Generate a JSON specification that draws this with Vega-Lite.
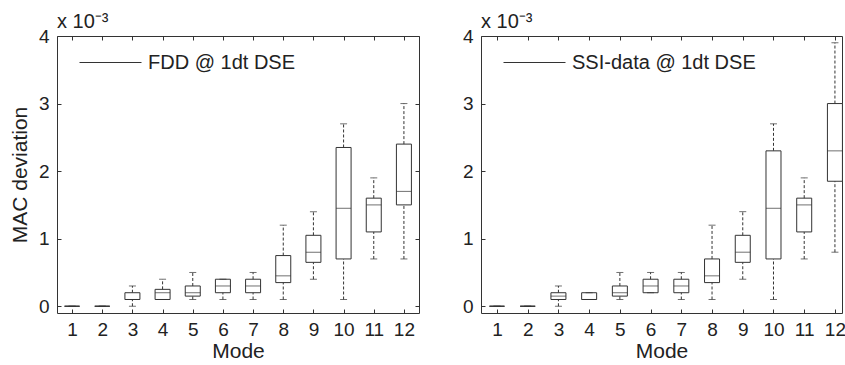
{
  "$schema": "https://vega.github.io/schema/vega-lite/v6.json",
  "background": "white",
  "padding": {"left": 8, "top": 11, "right": 0, "bottom": 0},
  "spacing": 41,
  "datasets": {
    "boxes": [
      {"panel": "FDD", "series": "FDD @ 1dt DSE", "mode": 1, "lo": 0, "q1": 0, "med": 0, "q3": 0, "hi": 0},
      {"panel": "FDD", "series": "FDD @ 1dt DSE", "mode": 2, "lo": 0, "q1": 0, "med": 0, "q3": 0, "hi": 0},
      {"panel": "FDD", "series": "FDD @ 1dt DSE", "mode": 3, "lo": 0, "q1": 0.1, "med": 0.1, "q3": 0.2, "hi": 0.3},
      {"panel": "FDD", "series": "FDD @ 1dt DSE", "mode": 4, "lo": 0.1, "q1": 0.1, "med": 0.2, "q3": 0.25, "hi": 0.4},
      {"panel": "FDD", "series": "FDD @ 1dt DSE", "mode": 5, "lo": 0.1, "q1": 0.15, "med": 0.2, "q3": 0.3, "hi": 0.5},
      {"panel": "FDD", "series": "FDD @ 1dt DSE", "mode": 6, "lo": 0.1, "q1": 0.2, "med": 0.3, "q3": 0.4, "hi": 0.4},
      {"panel": "FDD", "series": "FDD @ 1dt DSE", "mode": 7, "lo": 0.1, "q1": 0.2, "med": 0.3, "q3": 0.4, "hi": 0.5},
      {"panel": "FDD", "series": "FDD @ 1dt DSE", "mode": 8, "lo": 0.1, "q1": 0.35, "med": 0.45, "q3": 0.75, "hi": 1.2},
      {"panel": "FDD", "series": "FDD @ 1dt DSE", "mode": 9, "lo": 0.4, "q1": 0.65, "med": 0.8, "q3": 1.05, "hi": 1.4},
      {"panel": "FDD", "series": "FDD @ 1dt DSE", "mode": 10, "lo": 0.1, "q1": 0.7, "med": 1.45, "q3": 2.35, "hi": 2.7},
      {"panel": "FDD", "series": "FDD @ 1dt DSE", "mode": 11, "lo": 0.7, "q1": 1.1, "med": 1.5, "q3": 1.6, "hi": 1.9},
      {"panel": "FDD", "series": "FDD @ 1dt DSE", "mode": 12, "lo": 0.7, "q1": 1.5, "med": 1.7, "q3": 2.4, "hi": 3.0},
      {"panel": "SSI", "series": "SSI-data @ 1dt DSE", "mode": 1, "lo": 0, "q1": 0, "med": 0, "q3": 0, "hi": 0},
      {"panel": "SSI", "series": "SSI-data @ 1dt DSE", "mode": 2, "lo": 0, "q1": 0, "med": 0, "q3": 0, "hi": 0},
      {"panel": "SSI", "series": "SSI-data @ 1dt DSE", "mode": 3, "lo": 0, "q1": 0.1, "med": 0.15, "q3": 0.2, "hi": 0.3},
      {"panel": "SSI", "series": "SSI-data @ 1dt DSE", "mode": 4, "lo": 0.1, "q1": 0.1, "med": 0.1, "q3": 0.2, "hi": 0.2},
      {"panel": "SSI", "series": "SSI-data @ 1dt DSE", "mode": 5, "lo": 0.1, "q1": 0.15, "med": 0.2, "q3": 0.3, "hi": 0.5},
      {"panel": "SSI", "series": "SSI-data @ 1dt DSE", "mode": 6, "lo": 0.2, "q1": 0.2, "med": 0.3, "q3": 0.4, "hi": 0.5},
      {"panel": "SSI", "series": "SSI-data @ 1dt DSE", "mode": 7, "lo": 0.1, "q1": 0.2, "med": 0.3, "q3": 0.4, "hi": 0.5},
      {"panel": "SSI", "series": "SSI-data @ 1dt DSE", "mode": 8, "lo": 0.1, "q1": 0.35, "med": 0.45, "q3": 0.7, "hi": 1.2},
      {"panel": "SSI", "series": "SSI-data @ 1dt DSE", "mode": 9, "lo": 0.4, "q1": 0.65, "med": 0.8, "q3": 1.05, "hi": 1.4},
      {"panel": "SSI", "series": "SSI-data @ 1dt DSE", "mode": 10, "lo": 0.1, "q1": 0.7, "med": 1.45, "q3": 2.3, "hi": 2.7},
      {"panel": "SSI", "series": "SSI-data @ 1dt DSE", "mode": 11, "lo": 0.7, "q1": 1.1, "med": 1.5, "q3": 1.6, "hi": 1.9},
      {"panel": "SSI", "series": "SSI-data @ 1dt DSE", "mode": 12, "lo": 0.8, "q1": 1.85, "med": 2.3, "q3": 3.0, "hi": 3.9}
    ]
  },
  "resolve": {"scale": {"color": "independent"}, "legend": {"color": "independent"}},
  "hconcat": [
    {
      "width": 362,
      "height": 277,
      "data": {"name": "boxes"},
      "transform": [{"filter": "datum.panel === 'FDD'"}],
      "title": {"text": "x 10⁻³", "anchor": "start", "frame": "group", "fontSize": 20, "fontWeight": "normal", "offset": -5, "color": "#222"},
      "resolve": {"axis": {"x": "independent", "y": "independent"}},
      "layer": [
        {
          "mark": {"type": "rule", "strokeWidth": 1},
          "encoding": {
            "x": {"field": "mode", "type": "quantitative", "scale": {"domain": [0.5, 12.5], "nice": false, "zero": false, "padding": 0}, "axis": null},
            "y": {"field": "q1", "type": "quantitative", "scale": {"domain": [-0.1, 4], "nice": false, "zero": false, "padding": 0}, "axis": null},
            "y2": {"field": "q3"},
            "color": {"field": "series", "type": "nominal", "scale": {"range": ["#333333"]},
              "legend": {"orient": "none", "legendX": 22, "legendY": -5, "title": null, "symbolType": "stroke", "symbolSize": 3844, "symbolStrokeWidth": 1, "labelFontSize": 20, "labelColor": "#222", "labelOffset": 6, "labelLimit": 0, "padding": 0}}
          }
        },
        {
          "mark": {"type": "rule", "strokeDash": [3, 2], "color": "#333", "strokeWidth": 1},
          "encoding": {
            "x": {"field": "mode", "type": "quantitative", "axis": null},
            "y": {"field": "lo", "type": "quantitative", "axis": null},
            "y2": {"field": "q1"}
          }
        },
        {
          "mark": {"type": "rule", "strokeDash": [3, 2], "color": "#333", "strokeWidth": 1},
          "encoding": {
            "x": {"field": "mode", "type": "quantitative", "axis": null},
            "y": {"field": "q3", "type": "quantitative", "axis": null},
            "y2": {"field": "hi"}
          }
        },
        {
          "mark": {"type": "bar", "size": 15, "fill": "white", "stroke": "#333", "strokeWidth": 1},
          "encoding": {
            "x": {"field": "mode", "type": "quantitative", "title": "Mode",
              "axis": {"orient": "bottom", "values": [1,2,3,4,5,6,7,8,9,10,11,12], "format": "d", "tickSize": -4, "labelPadding": 11, "titlePadding": 1}},
            "y": {"field": "q1", "type": "quantitative", "title": "MAC deviation",
              "axis": {"orient": "left", "values": [0,1,2,3,4], "format": "d", "tickSize": -4, "labelPadding": 12, "titlePadding": 8}},
            "y2": {"field": "q3"}
          }
        },
        {
          "mark": {"type": "tick", "orient": "horizontal", "size": 15, "thickness": 1, "color": "#333"},
          "encoding": {
            "x": {"field": "mode", "type": "quantitative", "axis": null},
            "y": {"field": "med", "type": "quantitative", "axis": null}
          }
        },
        {
          "mark": {"type": "tick", "orient": "horizontal", "size": 7, "thickness": 1, "color": "#333"},
          "encoding": {
            "x": {"field": "mode", "type": "quantitative",
              "axis": {"orient": "top", "values": [1,2,3,4,5,6,7,8,9,10,11,12], "labels": false, "title": null, "tickSize": -4, "minExtent": 0, "maxExtent": 0}},
            "y": {"field": "lo", "type": "quantitative",
              "axis": {"orient": "right", "values": [0,1,2,3,4], "labels": false, "title": null, "tickSize": -4, "minExtent": 0, "maxExtent": 0}}
          }
        },
        {
          "mark": {"type": "tick", "orient": "horizontal", "size": 7, "thickness": 1, "color": "#333"},
          "encoding": {
            "x": {"field": "mode", "type": "quantitative", "axis": null},
            "y": {"field": "hi", "type": "quantitative", "axis": null}
          }
        }
      ]
    },
    {
      "width": 361,
      "height": 277,
      "data": {"name": "boxes"},
      "transform": [{"filter": "datum.panel === 'SSI'"}],
      "title": {"text": "x 10⁻³", "anchor": "start", "frame": "group", "fontSize": 20, "fontWeight": "normal", "offset": -5, "color": "#222"},
      "resolve": {"axis": {"x": "independent", "y": "independent"}},
      "layer": [
        {
          "mark": {"type": "rule", "strokeWidth": 1},
          "encoding": {
            "x": {"field": "mode", "type": "quantitative", "scale": {"domain": [0.48, 12.23], "nice": false, "zero": false, "padding": 0}, "axis": null},
            "y": {"field": "q1", "type": "quantitative", "scale": {"domain": [-0.1, 4], "nice": false, "zero": false, "padding": 0}, "axis": null},
            "y2": {"field": "q3"},
            "color": {"field": "series", "type": "nominal", "scale": {"range": ["#333333"]},
              "legend": {"orient": "none", "legendX": 22, "legendY": -5, "title": null, "symbolType": "stroke", "symbolSize": 3844, "symbolStrokeWidth": 1, "labelFontSize": 20, "labelColor": "#222", "labelOffset": 6, "labelLimit": 0, "padding": 0}}
          }
        },
        {
          "mark": {"type": "rule", "strokeDash": [3, 2], "color": "#333", "strokeWidth": 1},
          "encoding": {
            "x": {"field": "mode", "type": "quantitative", "axis": null},
            "y": {"field": "lo", "type": "quantitative", "axis": null},
            "y2": {"field": "q1"}
          }
        },
        {
          "mark": {"type": "rule", "strokeDash": [3, 2], "color": "#333", "strokeWidth": 1},
          "encoding": {
            "x": {"field": "mode", "type": "quantitative", "axis": null},
            "y": {"field": "q3", "type": "quantitative", "axis": null},
            "y2": {"field": "hi"}
          }
        },
        {
          "mark": {"type": "bar", "size": 15, "fill": "white", "stroke": "#333", "strokeWidth": 1},
          "encoding": {
            "x": {"field": "mode", "type": "quantitative", "title": "Mode",
              "axis": {"orient": "bottom", "values": [1,2,3,4,5,6,7,8,9,10,11,12], "format": "d", "tickSize": -4, "labelPadding": 11, "titlePadding": 1}},
            "y": {"field": "q1", "type": "quantitative", "title": null,
              "axis": {"orient": "left", "values": [0,1,2,3,4], "format": "d", "tickSize": -4, "labelPadding": 12, "minExtent": 0}},
            "y2": {"field": "q3"}
          }
        },
        {
          "mark": {"type": "tick", "orient": "horizontal", "size": 15, "thickness": 1, "color": "#333"},
          "encoding": {
            "x": {"field": "mode", "type": "quantitative", "axis": null},
            "y": {"field": "med", "type": "quantitative", "axis": null}
          }
        },
        {
          "mark": {"type": "tick", "orient": "horizontal", "size": 7, "thickness": 1, "color": "#333"},
          "encoding": {
            "x": {"field": "mode", "type": "quantitative",
              "axis": {"orient": "top", "values": [1,2,3,4,5,6,7,8,9,10,11,12], "labels": false, "title": null, "tickSize": -4, "minExtent": 0, "maxExtent": 0}},
            "y": {"field": "lo", "type": "quantitative", "axis": null}
          }
        },
        {
          "mark": {"type": "tick", "orient": "horizontal", "size": 7, "thickness": 1, "color": "#333"},
          "encoding": {
            "x": {"field": "mode", "type": "quantitative", "axis": null},
            "y": {"field": "hi", "type": "quantitative", "axis": null}
          }
        }
      ]
    }
  ],
  "config": {
    "font": "Liberation Sans",
    "view": {"stroke": "#333", "strokeWidth": 1},
    "axis": {"domain": false, "grid": false, "tickColor": "#333", "labelFontSize": 19, "labelColor": "#222", "titleFontSize": 21, "titleFontWeight": "normal", "titleColor": "#222", "labelFont": "Liberation Sans", "titleFont": "Liberation Sans"},
    "legend": {"labelFont": "Liberation Sans"},
    "title": {"font": "Liberation Sans"}
  }
}
